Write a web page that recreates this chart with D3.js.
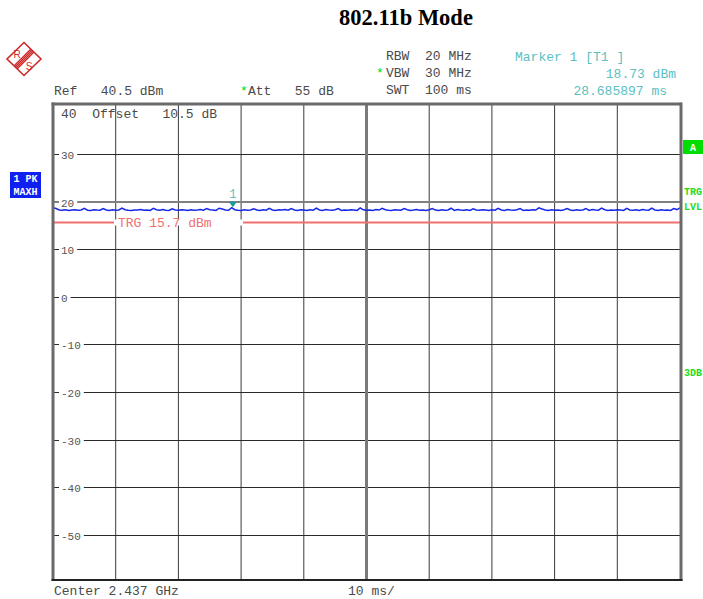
<!DOCTYPE html>
<html>
<head>
<meta charset="utf-8">
<script src="https://cdn.jsdelivr.net/npm/d3@7"></script>
<style>
  html, body { margin: 0; padding: 0; background: #fff; }
  svg { display: block; }
</style>
</head>
<body>
<svg id="chart" width="703" height="599"></svg>
<script>
// Sweep settings (zero span, time domain)
const sweepTimeMs = 100;
const refLevel = 40.5;
const divisionsY = 10;
const yTickValues = [30, 20, 10, 0, -10, -20, -30, -40, -50];
const yTickLabels = ["30", "20", "10", "0", "-10", "-20", "-30", "-40", "-50"];
const xDivisions = [0, 10, 20, 30, 40, 50, 60, 70, 80, 90, 100];

// Max-hold peak trace, one point per 0.5 ms (dBm)
const traceLevels = [
  18.70,18.55,18.25,18.20,18.30,18.15,18.22,18.28,18.18,18.25,18.60,18.20,18.15,18.30,18.22,18.18,18.55,18.25,18.15,18.28,
  18.20,18.25,18.65,18.30,18.18,18.15,18.25,18.22,18.35,18.18,18.22,18.15,18.58,18.28,18.20,18.32,18.18,18.15,18.50,18.25,
  18.18,18.30,18.22,18.15,18.28,18.20,18.25,18.32,18.18,18.55,18.30,18.22,18.15,18.60,18.45,18.25,18.18,18.73,18.30,18.20,
  18.15,18.28,18.20,18.25,18.50,18.22,18.15,18.30,18.18,18.58,18.25,18.15,18.28,18.22,18.32,18.18,18.55,18.25,18.15,18.30,
  18.22,18.15,18.28,18.18,18.62,18.25,18.15,18.32,18.22,18.18,18.28,18.52,18.15,18.25,18.18,18.30,18.22,18.15,18.68,18.28,
  18.18,18.25,18.15,18.32,18.22,18.58,18.28,18.18,18.15,18.30,18.25,18.18,18.52,18.28,18.15,18.22,18.32,18.18,18.25,18.15,
  18.30,18.55,18.22,18.15,18.28,18.18,18.25,18.60,18.15,18.32,18.22,18.18,18.28,18.15,18.50,18.25,18.18,18.30,18.22,18.15,
  18.28,18.18,18.58,18.25,18.15,18.32,18.22,18.18,18.28,18.52,18.15,18.25,18.18,18.30,18.22,18.68,18.45,18.25,18.15,18.28,
  18.18,18.25,18.15,18.30,18.52,18.22,18.15,18.28,18.18,18.25,18.55,18.15,18.32,18.22,18.18,18.62,18.28,18.15,18.25,18.18,
  18.30,18.22,18.15,18.58,18.25,18.18,18.28,18.15,18.32,18.22,18.18,18.62,18.25,18.15,18.28,18.18,18.22,18.15,18.52,18.32,
  18.68
];

// Trigger level and marker
const triggerLevel = 15.7;
const displayLine = 20;
const markerTimeMs = 28.685897;
const markerLevel = 18.73;

const svg = d3.select("#chart");
const mono = "'Liberation Mono', 'Courier New', monospace";
const grey = "#4a4a4a";
const teal = "#5cbfbf";
const green = "#00dd00";
const fs = 13;

const plotLeft = 53, plotRight = 680, plotTop = 104, plotBottom = 580;

const x = d3.scaleLinear().domain([0, sweepTimeMs]).range([plotLeft, plotRight]);
const y = d3.scaleLinear().domain([refLevel - 10 * divisionsY, refLevel]).range([plotBottom, plotTop]);

// Title
svg.append("text")
  .attr("x", 406).attr("y", 25)
  .attr("text-anchor", "middle")
  .attr("font-family", "'Liberation Serif', 'Times New Roman', serif")
  .attr("font-weight", "bold")
  .attr("font-size", 22.5)
  .attr("fill", "#000")
  .text("802.11b Mode");

// Rohde & Schwarz logo
const logo = svg.append("g").attr("transform", "translate(24,59)");
const red = "#cc2a2a";
logo.append("path")
  .attr("d", "M0,-16.5 L17,0 L0,16.5 L-17,0 Z")
  .attr("fill", "#fff").attr("stroke", red).attr("stroke-width", 1.6);
const band = logo.append("g").attr("transform", "rotate(45)");
band.append("rect").attr("x", -2.8).attr("y", -12).attr("width", 5.6).attr("height", 24)
  .attr("fill", red);
[-1.4, 0, 1.4].forEach(d => {
  band.append("line").attr("x1", d).attr("x2", d).attr("y1", -11).attr("y2", 11)
    .attr("stroke", "#f2b0b0").attr("stroke-width", 0.5);
});
logo.append("text").attr("x", -7).attr("y", -1).attr("text-anchor", "middle")
  .attr("font-family", "'Liberation Sans', Arial, sans-serif").attr("font-size", 10)
  .attr("fill", red).text("R");
logo.append("text").attr("x", 5).attr("y", 11).attr("text-anchor", "middle")
  .attr("font-family", "'Liberation Sans', Arial, sans-serif").attr("font-size", 10)
  .attr("fill", red).text("S");

// Header settings text
function monoText(tx, ty, str, color, anchor, size) {
  return svg.append("text")
    .attr("x", tx).attr("y", ty)
    .attr("text-anchor", anchor || "start")
    .attr("font-family", mono)
    .attr("font-size", size || fs)
    .attr("fill", color || grey)
    .attr("xml:space", "preserve")
    .style("white-space", "pre")
    .text(str);
}
monoText(54, 95, "Ref   40.5 dBm");
monoText(240, 95, "*", green);
monoText(248, 95, "Att   55 dB");
monoText(386, 60, "RBW  20 MHz");
monoText(376, 77, "*", green);
monoText(386, 77, "VBW  30 MHz");
monoText(386, 94, "SWT  100 ms");
monoText(515, 61, "Marker 1 [T1 ]", teal);
monoText(676, 78, "18.73 dBm", teal, "end");
monoText(667, 95, "28.685897 ms", teal, "end");

// Footer
monoText(54, 595, "Center 2.437 GHz");
monoText(348, 595, "10 ms/");

// Grid
const grid = svg.append("g");
grid.selectAll("line.v")
  .data(xDivisions.filter(d => d > 0 && d < sweepTimeMs && d !== 50))
  .join("line")
  .attr("x1", d => x(d)).attr("x2", d => x(d))
  .attr("y1", plotTop).attr("y2", plotBottom)
  .attr("stroke", "#3a3a3a").attr("stroke-width", 1);
grid.selectAll("line.h")
  .data(yTickValues.filter(d => d !== displayLine))
  .join("line")
  .attr("x1", plotLeft).attr("x2", plotRight)
  .attr("y1", d => Math.round(y(d)) + 0.5).attr("y2", d => Math.round(y(d)) + 0.5)
  .attr("stroke", "#2a2a2a").attr("stroke-width", 1);

// Display line at 20 dBm
svg.append("line")
  .attr("x1", plotLeft).attr("x2", plotRight)
  .attr("y1", Math.round(y(displayLine))).attr("y2", Math.round(y(displayLine)))
  .attr("stroke", "#808080").attr("stroke-width", 2);

// Centre division
svg.append("line")
  .attr("x1", x(50)).attr("x2", x(50))
  .attr("y1", plotTop).attr("y2", plotBottom)
  .attr("stroke", "#7a7a7a").attr("stroke-width", 3);

// Y axis labels inside the grid
const yLab = svg.append("g");
yTickValues.forEach((v, i) => {
  const yy = Math.round(y(v)) + 0.5;
  const label = yTickLabels[i];
  const w = label.length * 6.6;
  yLab.append("rect").attr("x", 59).attr("y", yy - 5).attr("width", w + 5).attr("height", 10)
    .attr("fill", "#fff");
  yLab.append("text").attr("x", 61).attr("y", yy + 4)
    .attr("font-family", mono).attr("font-size", 11).attr("fill", "#555")
    .text(label);
});
monoText(61, 118, "40  Offset   10.5 dB");

// Trigger level line with label
const trgY = Math.round(y(triggerLevel)) + 0.5;
svg.append("line")
  .attr("x1", plotLeft).attr("x2", plotRight)
  .attr("y1", trgY).attr("y2", trgY)
  .attr("stroke", "#f07070").attr("stroke-width", 2);
svg.append("rect").attr("x", 114).attr("y", trgY - 3).attr("width", 129).attr("height", 6).attr("fill", "#fff");
monoText(118, trgY + 4.5, "TRG 15.7 dBm", "#f07070");

// Trace
const step = sweepTimeMs / (traceLevels.length - 1);
const line = d3.line()
  .x((d, i) => x(i * step))
  .y(d => y(d));
svg.append("path")
  .datum(traceLevels)
  .attr("d", line)
  .attr("fill", "none")
  .attr("stroke", "#1428e6")
  .attr("stroke-width", 1.5)
  .attr("stroke-linejoin", "miter");

// Marker 1
const mx = x(markerTimeMs), my = y(markerLevel);
svg.append("path")
  .attr("d", `M${mx - 4},${my - 6} L${mx + 4},${my - 6} L${mx},${my - 0.5} Z`)
  .attr("fill", "#1a9a9a");
svg.append("text").attr("x", mx).attr("y", my - 10)
  .attr("text-anchor", "middle")
  .attr("font-family", mono).attr("font-size", 12).attr("fill", teal)
  .text("1");

// Frame
svg.append("line").attr("x1", plotLeft).attr("x2", plotLeft).attr("y1", plotTop - 1.5).attr("y2", plotBottom + 1)
  .attr("stroke", "#6a6a6a").attr("stroke-width", 3);
svg.append("line").attr("x1", plotLeft - 1.5).attr("x2", plotRight + 1.5).attr("y1", plotTop).attr("y2", plotTop)
  .attr("stroke", "#6a6a6a").attr("stroke-width", 3);
svg.append("line").attr("x1", plotRight + 1).attr("x2", plotRight + 1).attr("y1", plotTop - 1.5).attr("y2", plotBottom + 1)
  .attr("stroke", "#6a6a6a").attr("stroke-width", 3);
svg.append("line").attr("x1", plotLeft - 1.5).attr("x2", plotRight + 2.5).attr("y1", plotBottom).attr("y2", plotBottom)
  .attr("stroke", "#222").attr("stroke-width", 2);

// Trace status badges
function badge(bx, by, w, h, str, fill) {
  svg.append("rect").attr("x", bx).attr("y", by).attr("width", w).attr("height", h).attr("fill", fill);
  svg.append("text").attr("x", bx + w / 2).attr("y", by + h - 3)
    .attr("text-anchor", "middle")
    .attr("font-family", mono).attr("font-weight", "bold")
    .attr("font-size", 10).attr("fill", "#fff")
    .attr("xml:space", "preserve")
    .text(str);
}
badge(10, 172, 31, 13, "1 PK", "#1020f0");
badge(10, 185, 31, 13, "MAXH", "#1020f0");
badge(683, 140, 20, 14, "A", green);

// Side annotations
function sideText(ty, str) {
  svg.append("text").attr("x", 684).attr("y", ty)
    .attr("font-family", mono).attr("font-weight", "bold")
    .attr("font-size", 10).attr("fill", "#22dd22")
    .text(str);
}
sideText(195, "TRG");
sideText(210, "LVL");
sideText(376, "3DB");
</script>
</body>
</html>
